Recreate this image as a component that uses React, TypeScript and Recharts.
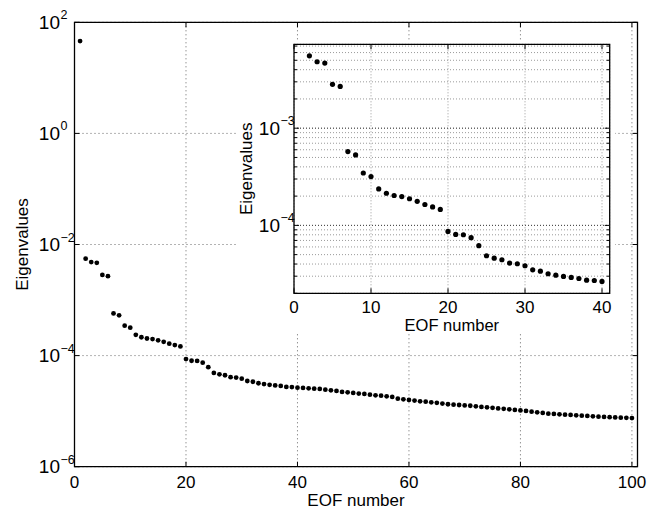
import { ScatterChart, Scatter, XAxis, YAxis, CartesianGrid, ReferenceArea, ReferenceLine } from 'recharts';

// eigenvalue spectrum, EOF 1..100
const EIGENVALUES = [
  46, 5.55e-3, 4.83e-3, 4.68e-3, 2.83e-3, 2.69e-3, 5.75e-4, 5.31e-4, 3.46e-4, 3.18e-4,
  2.37e-4, 2.14e-4, 2.03e-4, 1.98e-4, 1.88e-4, 1.77e-4, 1.64e-4, 1.55e-4, 1.46e-4, 8.67e-5,
  8.07e-5, 8.01e-5, 7.47e-5, 6.18e-5, 4.87e-5, 4.6e-5, 4.43e-5, 4.09e-5, 4.03e-5, 3.84e-5,
  3.49e-5, 3.38e-5, 3.18e-5, 3.07e-5, 2.98e-5, 2.91e-5, 2.84e-5, 2.73e-5, 2.71e-5, 2.65e-5,
  2.62e-5, 2.58e-5, 2.54e-5, 2.51e-5, 2.44e-5, 2.37e-5, 2.31e-5, 2.22e-5, 2.18e-5, 2.13e-5,
  2.07e-5, 2.04e-5, 1.98e-5, 1.93e-5, 1.9e-5, 1.85e-5, 1.8e-5, 1.68e-5, 1.63e-5, 1.59e-5,
  1.55e-5, 1.5e-5, 1.48e-5, 1.44e-5, 1.41e-5, 1.37e-5, 1.33e-5, 1.31e-5, 1.29e-5, 1.27e-5,
  1.25e-5, 1.22e-5, 1.19e-5, 1.17e-5, 1.15e-5, 1.12e-5, 1.1e-5, 1.08e-5, 1.05e-5, 1.03e-5,
  1.01e-5, 9.8e-6, 9.51e-6, 9.28e-6, 9.02e-6, 8.91e-6, 8.76e-6, 8.65e-6, 8.55e-6, 8.4e-6,
  8.3e-6, 8.2e-6, 8.06e-6, 7.96e-6, 7.86e-6, 7.8e-6, 7.7e-6, 7.63e-6, 7.57e-6, 7.52e-6,
];

const MAIN_X_TICKS = [0, 20, 40, 60, 80, 100];
const MAIN_Y_TICKS = [1e-6, 1e-4, 1e-2, 1, 100];
const INSET_X_TICKS = [0, 10, 20, 30, 40];
const INSET_Y_MAJOR = [1e-4, 1e-3];
const INSET_Y_MINOR = [
  2e-5, 3e-5, 4e-5, 5e-5, 6e-5, 7e-5, 8e-5, 9e-5,
  2e-4, 3e-4, 4e-4, 5e-4, 6e-4, 7e-4, 8e-4, 9e-4,
  2e-3, 3e-3, 4e-3, 5e-3, 6e-3, 7e-3,
];

const mainData = EIGENVALUES.map((v, i) => ({ x: i + 1, y: v }));
const insetData = mainData.slice(1, 40);
const insetYTicks = [...INSET_Y_MAJOR, ...INSET_Y_MINOR].sort((a, b) => a - b);

const FONT = '"Liberation Sans", Arial, Helvetica, sans-serif';

// plot boxes (chart coords)
const MAIN = { left: 74.5, top: 22.3, right: 637.5, bottom: 466.7 };
const INSET_POS = { left: 237, top: 41, width: 378, height: 292 };
const INSET = { left: 57, top: 3.3, right: 372.7, bottom: 252.3 };

const expText = (v: number) => {
  const e = Math.round(Math.log10(v));
  return e < 0 ? `\u2212${-e}` : `${e}`;
};

function Pow10({ x, y, value }: { x: number; y: number; value: number }) {
  return (
    <g fontFamily={FONT} fill="#000">
      <text x={x} y={y + 6.5} textAnchor="end" fontSize={19}>10</text>
      <text x={x + 0.5} y={y - 3} textAnchor="start" fontSize={12.5}>{expText(value)}</text>
    </g>
  );
}

const MainXTick = ({ x, payload }: any) => (
  <g>
    <line x1={x} x2={x} y1={MAIN.bottom} y2={MAIN.bottom - 5} stroke="#000" />
    <line x1={x} x2={x} y1={MAIN.top} y2={MAIN.top + 5} stroke="#000" />
    <text x={x} y={488} textAnchor="middle" fontSize={17} fontFamily={FONT} fill="#000">
      {payload.value}
    </text>
  </g>
);

const MainYTick = ({ y, payload }: any) => (
  <g>
    <line x1={MAIN.left} x2={MAIN.left + 5} y1={y} y2={y} stroke="#000" />
    <line x1={MAIN.right} x2={MAIN.right - 5} y1={y} y2={y} stroke="#000" />
    <Pow10 x={60} y={y} value={payload.value} />
  </g>
);

const InsetXTick = ({ x, payload }: any) => (
  <g>
    <line x1={x} x2={x} y1={INSET.bottom} y2={INSET.bottom - 5} stroke="#000" />
    <line x1={x} x2={x} y1={INSET.top} y2={INSET.top + 5} stroke="#000" />
    <text x={x} y={271.5} textAnchor="middle" fontSize={17} fontFamily={FONT} fill="#000">
      {payload.value}
    </text>
  </g>
);

const InsetYTick = ({ y, payload }: any) => {
  const major = INSET_Y_MAJOR.includes(payload.value);
  const len = major ? 5 : 3;
  return (
    <g>
      <line x1={INSET.left} x2={INSET.left + len} y1={y} y2={y} stroke="#000" />
      <line x1={INSET.right} x2={INSET.right - len} y1={y} y2={y} stroke="#000" />
      {major && <Pow10 x={43} y={y} value={payload.value} />}
    </g>
  );
};

const dot = (r: number) => (props: any) => <circle cx={props.cx} cy={props.cy} r={r} fill="#000" />;

const axisTitle = (text: string, x: number, y: number, rotate = false, size = 17) => () => (
  <text
    x={x}
    y={y}
    textAnchor="middle"
    fontSize={size}
    fontFamily={FONT}
    fill="#000"
    transform={rotate ? `rotate(-90 ${x} ${y})` : undefined}
  >
    {text}
  </text>
);

export default function App() {
  return (
    <div style={{ position: 'absolute', left: 0, top: 0, width: 649, height: 513, background: '#fff' }}>
      <ScatterChart
        width={649}
        height={513}
        margin={{ top: MAIN.top, right: 649 - MAIN.right, bottom: 0, left: 0 }}
      >
        <CartesianGrid stroke="#666" strokeDasharray="1 3" />
        <XAxis
          type="number"
          dataKey="x"
          domain={[0, 101]}
          ticks={MAIN_X_TICKS}
          interval={0}
          allowDataOverflow
          height={513 - MAIN.bottom}
          axisLine={false}
          tickLine={false}
          tick={<MainXTick />}
          label={axisTitle('EOF number', (MAIN.left + MAIN.right) / 2, 506)}
        />
        <YAxis
          type="number"
          dataKey="y"
          scale="log"
          domain={[1e-6, 100]}
          ticks={MAIN_Y_TICKS}
          interval={0}
          allowDataOverflow
          width={MAIN.left}
          axisLine={false}
          tickLine={false}
          tick={<MainYTick />}
          label={axisTitle('Eigenvalues', 28, (MAIN.top + MAIN.bottom) / 2, true)}
        />
        <ReferenceArea x1={0} x2={101} y1={1e-6} y2={100} fill="none" stroke="#000" strokeWidth={1.3} />
        <Scatter data={mainData} isAnimationActive={false} shape={dot(2.4)} />
      </ScatterChart>

      <div
        style={{
          position: 'absolute',
          left: INSET_POS.left,
          top: INSET_POS.top,
          width: INSET_POS.width,
          height: INSET_POS.height,
          background: '#fff',
        }}
      >
        <ScatterChart
          width={INSET_POS.width}
          height={INSET_POS.height}
          margin={{ top: INSET.top, right: INSET_POS.width - INSET.right, bottom: 0, left: 0 }}
        >
          <CartesianGrid stroke="#9a9a9a" strokeDasharray="1 2" />
          <ReferenceLine y={1e-3} stroke="#444" strokeDasharray="1 2" />
          <ReferenceLine y={1e-4} stroke="#444" strokeDasharray="1 2" />
          <XAxis
            type="number"
            dataKey="x"
            domain={[0, 41]}
            ticks={INSET_X_TICKS}
            interval={0}
            allowDataOverflow
            height={INSET_POS.height - INSET.bottom}
            axisLine={false}
            tickLine={false}
            tick={<InsetXTick />}
            label={axisTitle('EOF number', (INSET.left + INSET.right) / 2, 290, false, 16.5)}
          />
          <YAxis
            type="number"
            dataKey="y"
            scale="log"
            domain={[2e-5, 7.3e-3]}
            ticks={insetYTicks}
            interval={0}
            allowDataOverflow
            width={INSET.left}
            axisLine={false}
            tickLine={false}
            tick={<InsetYTick />}
            label={axisTitle('Eigenvalues', 15, (INSET.top + INSET.bottom) / 2, true)}
          />
          <ReferenceArea x1={0} x2={41} y1={2e-5} y2={7.3e-3} fill="none" stroke="#000" strokeWidth={1.3} />
          <Scatter data={insetData} isAnimationActive={false} shape={dot(2.6)} />
        </ScatterChart>
      </div>
    </div>
  );
}
